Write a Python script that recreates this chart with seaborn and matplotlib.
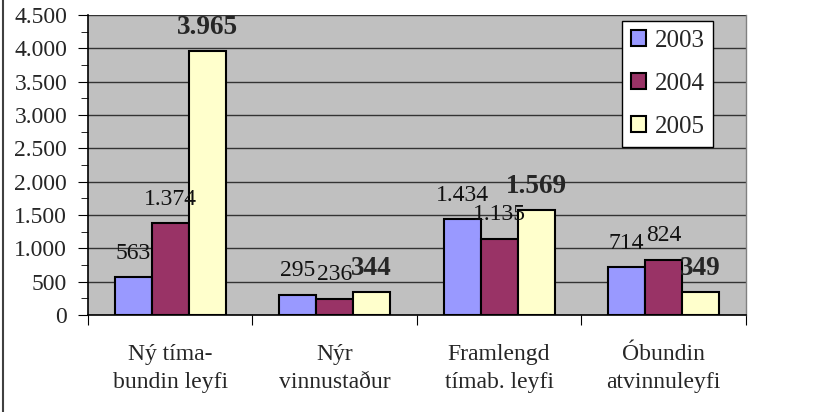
import numpy as np
import pandas as pd
import seaborn as sns
import matplotlib.pyplot as plt
from matplotlib.lines import Line2D

# Chart data
categories = ["Ný tíma-\nbundin leyfi", "Nýr\nvinnustaður",
              "Framlengd\ntímab. leyfi", "Óbundin\natvinnuleyfi"]
years = ["2003", "2004", "2005"]
values_2003 = [563, 295, 1434, 714]
values_2004 = [1374, 236, 1135, 824]
values_2005 = [3965, 344, 1569, 349]
colors = ["#9999FF", "#993366", "#FFFFCC"]

df = pd.DataFrame({
    "flokkur": categories * 3,
    "ar": [y for y in years for _ in categories],
    "fjoldi": values_2003 + values_2004 + values_2005,
})

sns.set_style("white")
plt.rcParams["font.family"] = ["Liberation Serif", "DejaVu Serif"]


def thousands(v):
    return f"{int(v):,}".replace(",", ".")


fig = plt.figure(figsize=(8.16, 4.12), dpi=100)
ax = fig.add_axes([0.1078, 0.2354, 0.806, 0.7282])
ax.set_facecolor("#C0C0C0")

sns.barplot(data=df, x="flokkur", y="fjoldi", hue="ar", palette=colors,
            width=0.675, gap=0, edgecolor="black", linewidth=1.5,
            saturation=1, ax=ax, zorder=3)

# Data labels
for cont, yr in zip(ax.containers, years):
    labels = [thousands(b.get_height()) for b in cont]
    if yr == "2005":
        ax.bar_label(cont, labels=labels, padding=8, fontsize=19.5,
                     fontweight="bold", zorder=5)
    else:
        ax.bar_label(cont, labels=labels, padding=10, fontsize=17,
                     color="#111111", zorder=5)

# Axes
ax.set_ylim(0, 4500)
ax.set_xlim(-0.5, 3.5)
ax.set_yticks(np.arange(0, 4501, 500))
ax.set_yticks(np.arange(250, 4500, 500), minor=True)
ax.set_yticklabels([thousands(v) for v in np.arange(0, 4501, 500)], fontsize=17)
ax.set_xticks(np.arange(-0.5, 3.6, 1))
ax.set_xticklabels([])
ax.set_xticks(np.arange(4), minor=True)
ax.set_xticklabels(categories, minor=True, fontsize=17, linespacing=1.45)
ax.tick_params(axis="x", which="minor", length=0, pad=21)
ax.tick_params(axis="x", which="major", length=7, direction="out",
               bottom=True, color="black")
ax.tick_params(axis="y", which="major", length=7, direction="out",
               left=True, color="black", pad=8)
ax.tick_params(axis="y", which="minor", length=5, direction="out",
               left=True, color="black")
ax.yaxis.grid(True, color="#333333", linewidth=1)
ax.set_axisbelow(True)
ax.set_xlabel("")
ax.set_ylabel("")

for side in ["top", "right"]:
    ax.spines[side].set_color("#808080")
    ax.spines[side].set_linewidth(1)
for side in ["left", "bottom"]:
    ax.spines[side].set_color("black")
    ax.spines[side].set_linewidth(1.2)
ax.spines["top"].set_visible(False)

leg = ax.legend(loc="upper right", bbox_to_anchor=(0.951, 0.98), fontsize=18,
                frameon=True, fancybox=False, framealpha=1, edgecolor="black",
                handlelength=0.6, handleheight=0.6, handletextpad=0.35,
                labelspacing=0.85, borderpad=0.35, borderaxespad=0, title=None)
leg.get_frame().set_linewidth(1)
for h in leg.legend_handles:
    h.set_edgecolor("black")
    h.set_linewidth(1.5)

# Left border of the chart frame
fig.add_artist(Line2D([0.004, 0.004], [0, 1], color="#404040", linewidth=1.5))

fig.savefig("out.png", dpi=100, facecolor="white")
